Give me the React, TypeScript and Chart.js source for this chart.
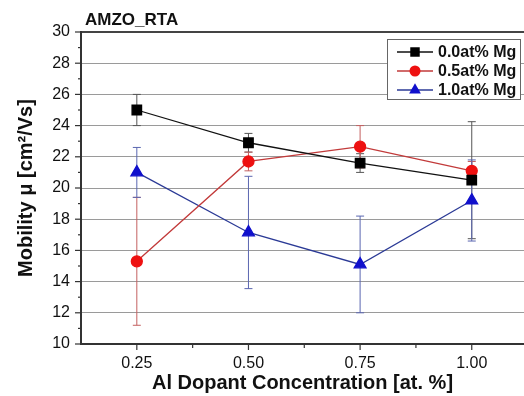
import React, { useEffect, useRef } from "react";
import { Chart, registerables } from "chart.js";

Chart.register(...registerables);

const concentrations = [0.25, 0.5, 0.75, 1.0];
const mg00 = [25.0, 22.9, 21.6, 20.5];
const mg00Err = [1.0, 0.6, 0.6, 3.75];
const mg05 = [15.3, 21.7, 22.65, 21.1];
const mg05Err = [4.1, 0.6, 1.35, 0.6];
const mg10 = [21.0, 17.15, 15.1, 19.2];
const mg10Err = [1.6, 3.6, 3.1, 2.6];
const seriesLabels = ["0.0at% Mg", "0.5at% Mg", "1.0at% Mg"];
const xTickValues = [0.25, 0.5, 0.75, 1.0];
const xMinorTickValues = [0.375, 0.625, 0.875];
const xRange = [0.125, 1.117];
const yRange = [10, 30];
const chartTitle = "AMZO_RTA";
const xTitle = "Al Dopant Concentration [at. %]";
const yTitle = "Mobility \u03bc [cm\u00b2/Vs]";

const FONT = "'Liberation Sans', Arial, sans-serif";

const pts = (ys: number[]) => ys.map((y, i) => ({ x: concentrations[i], y }));

function drawMarker(ctx: CanvasRenderingContext2D, style: string, x: number, y: number, r: number, color: string) {
  ctx.save();
  ctx.fillStyle = color;
  ctx.beginPath();
  if (style === "rect") {
    const s = Math.SQRT1_2 * r;
    ctx.rect(x - s, y - s, 2 * s, 2 * s);
  } else if (style === "circle") {
    ctx.arc(x, y, r, 0, Math.PI * 2);
  } else {
    const a = (d: number) => (d * Math.PI) / 180;
    ctx.moveTo(x + Math.cos(a(-90)) * r, y + Math.sin(a(-90)) * r);
    ctx.lineTo(x + Math.cos(a(30)) * r, y + Math.sin(a(30)) * r);
    ctx.lineTo(x + Math.cos(a(150)) * r, y + Math.sin(a(150)) * r);
    ctx.closePath();
  }
  ctx.fill();
  ctx.restore();
}

const errorBarPlugin = {
  id: "errorBars",
  beforeDatasetsDraw(chart: any) {
    const ctx = chart.ctx;
    const ys = chart.scales.y;
    const xs = chart.scales.x;
    chart.data.datasets.forEach((ds: any) => {
      const errs: number[] = ds.errors;
      ctx.save();
      ctx.strokeStyle = ds.errorColor;
      ctx.lineWidth = 1;
      ds.data.forEach((p: any, i: number) => {
        const px = xs.getPixelForValue(p.x);
        const top = ys.getPixelForValue(p.y + errs[i]);
        const bot = ys.getPixelForValue(p.y - errs[i]);
        ctx.beginPath();
        ctx.moveTo(px, top);
        ctx.lineTo(px, bot);
        ctx.moveTo(px - 4, top);
        ctx.lineTo(px + 4, top);
        ctx.moveTo(px - 4, bot);
        ctx.lineTo(px + 4, bot);
        ctx.stroke();
      });
      ctx.restore();
    });
  },
};

const decorPlugin = {
  id: "decor",
  afterDraw(chart: any) {
    const ctx = chart.ctx;
    const xs = chart.scales.x;
    const ys = chart.scales.y;
    const area = chart.chartArea;
    ctx.save();
    ctx.strokeStyle = "#333";
    ctx.lineWidth = 1.2;
    for (let v = yRange[0]; v <= yRange[1]; v++) {
      const py = ys.getPixelForValue(v);
      const len = v % 2 === 0 ? 6 : 3;
      ctx.beginPath();
      ctx.moveTo(area.left - len, py);
      ctx.lineTo(area.left, py);
      ctx.stroke();
    }
    xTickValues.forEach((v) => {
      const px = xs.getPixelForValue(v);
      ctx.beginPath();
      ctx.moveTo(px, area.bottom);
      ctx.lineTo(px, area.bottom + 6);
      ctx.stroke();
    });
    xMinorTickValues.forEach((v) => {
      const px = xs.getPixelForValue(v);
      ctx.beginPath();
      ctx.moveTo(px, area.bottom);
      ctx.lineTo(px, area.bottom + 4);
      ctx.stroke();
    });
    ctx.fillStyle = "#111";
    ctx.font = `bold 17px ${FONT}`;
    ctx.textAlign = "left";
    ctx.textBaseline = "middle";
    ctx.fillText(chartTitle, area.left + 4, 20);
    const bx = 387, by = 39, bw = 133, bh = 60;
    ctx.fillStyle = "#fff";
    ctx.fillRect(bx, by, bw, bh);
    ctx.strokeStyle = "#666";
    ctx.lineWidth = 1;
    ctx.strokeRect(bx + 0.5, by + 0.5, bw, bh);
    chart.data.datasets.forEach((ds: any, i: number) => {
      const ry = by + 13 + i * 19;
      ctx.strokeStyle = ds.borderColor;
      ctx.lineWidth = 1.3;
      ctx.beginPath();
      ctx.moveTo(bx + 10, ry);
      ctx.lineTo(bx + 46, ry);
      ctx.stroke();
      drawMarker(ctx, ds.pointStyle, bx + 28, ry, ds.pointRadius, ds.pointBackgroundColor);
      ctx.fillStyle = "#111";
      ctx.font = `bold 16px ${FONT}`;
      ctx.textAlign = "left";
      ctx.textBaseline = "middle";
      ctx.fillText(ds.label, bx + 51, ry + 1);
    });
    ctx.restore();
  },
};

export default function App() {
  const ref = useRef<HTMLCanvasElement>(null);
  useEffect(() => {
    if (!ref.current) return;
    const chart = new Chart(ref.current, {
      type: "line",
      data: {
        datasets: [
          {
            label: seriesLabels[0],
            data: pts(mg00),
            errors: mg00Err,
            errorColor: "#555",
            borderColor: "#111",
            backgroundColor: "#000",
            pointBackgroundColor: "#000",
            pointBorderColor: "#000",
            pointStyle: "rect",
            pointRadius: 6.7,
            borderWidth: 1.3,
          } as any,
          {
            label: seriesLabels[1],
            data: pts(mg05),
            errors: mg05Err,
            errorColor: "#c46060",
            borderColor: "#c23a3a",
            backgroundColor: "#ee1111",
            pointBackgroundColor: "#ee1111",
            pointBorderColor: "#ee1111",
            pointStyle: "circle",
            pointRadius: 5.5,
            borderWidth: 1.3,
          } as any,
          {
            label: seriesLabels[2],
            data: pts(mg10),
            errors: mg10Err,
            errorColor: "#5a66b0",
            borderColor: "#2b3a96",
            backgroundColor: "#1010cc",
            pointBackgroundColor: "#1010cc",
            pointBorderColor: "#1010cc",
            pointStyle: "triangle",
            pointRadius: 6.8,
            borderWidth: 1.3,
          } as any,
        ],
      },
      options: {
        animation: false,
        responsive: false,
        layout: { autoPadding: false, padding: { top: 32, left: 0, right: 0, bottom: 0 } },
        plugins: {
          legend: { display: false },
          tooltip: { enabled: false },
        },
        scales: {
          x: {
            type: "linear",
            min: xRange[0],
            max: xRange[1],
            afterBuildTicks: (scale: any) => {
              scale.ticks = xTickValues.map((v) => ({ value: v }));
            },
            afterFit: (scale: any) => {
              scale.height = 52;
              scale.paddingLeft = 0;
              scale.paddingRight = 0;
            },
            grid: { display: false, drawTicks: false },
            border: { display: true, color: "#333", width: 2 },
            ticks: {
              padding: 10,
              color: "#111",
              font: { family: FONT, size: 16 },
              callback: (v: any) => Number(v).toFixed(2),
            },
            title: {
              display: true,
              text: xTitle,
              color: "#111",
              font: { family: FONT, size: 20, weight: "bold" },
              padding: { top: 0, bottom: 1 },
            },
          },
          y: {
            type: "linear",
            min: yRange[0],
            max: yRange[1],
            afterFit: (scale: any) => {
              scale.width = 81;
            },
            grid: {
              drawTicks: false,
              color: (c: any) => {
                const v = c.tick.value;
                if (v === yRange[1]) return "#444";
                return v % 2 === 0 ? "#9a9a9a" : "#e2e2e2";
              },
              lineWidth: (c: any) => (c.tick.value === yRange[1] ? 2 : 1),
            },
            border: { display: true, color: "#333", width: 2 },
            ticks: {
              stepSize: 1,
              padding: 11,
              color: "#111",
              font: { family: FONT, size: 16 },
              callback: (v: any) => (Number(v) % 2 === 0 ? String(v) : ""),
            },
            title: {
              display: true,
              text: yTitle,
              color: "#111",
              font: { family: FONT, size: 20, weight: "bold" },
              padding: { top: 14, bottom: 0 },
            },
          },
        },
      } as any,
      plugins: [errorBarPlugin, decorPlugin],
    });
    return () => chart.destroy();
  }, []);
  return (
    <div style={{ position: "absolute", left: 0, top: 0, width: 524, height: 396, background: "#fff" }}>
      <canvas ref={ref} width={524} height={396} style={{ display: "block" }} />
    </div>
  );
}
